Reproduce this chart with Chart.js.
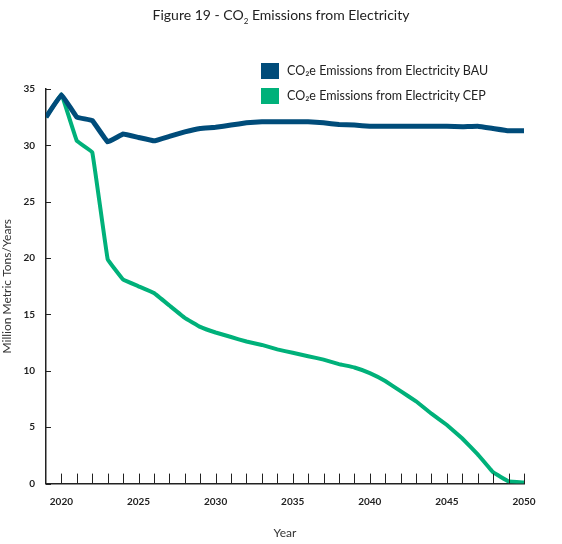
<!DOCTYPE html>
<html lang="en">
<head>
<meta charset="UTF-8">
<title>Figure 19 - CO2 Emissions from Electricity</title>
<script src="https://cdn.jsdelivr.net/npm/chart.js"></script>
<style>
  body { margin: 0; background: #fff; font-family: Lato, "Open Sans", sans-serif; }
  .wrap { position: relative; width: 562px; height: 544px; }
  .title { position: absolute; top: 6px; left: 0; width: 562px; text-align: center; font-size: 14px; color: #222; }
  .legend { position: absolute; left: 261px; top: 58px; font-size: 12.5px; color: #222; }
  .legend div { display: flex; align-items: center; height: 25px; }
  .legend span.box { width: 18px; height: 16px; margin-right: 8px; }
  canvas { position: absolute; top: 0; left: 0; }
</style>
</head>
<body>
<div class="wrap">
  <canvas id="co2Chart" width="562" height="544"></canvas>
  <div class="title">Figure 19 - CO<sub style="font-size:8px">2</sub> Emissions from Electricity</div>
  <div class="legend">
    <div><span class="box" style="background:#004c7a"></span>CO₂e Emissions from Electricity BAU</div>
    <div><span class="box" style="background:#00b17a"></span>CO₂e Emissions from Electricity CEP</div>
  </div>
</div>
<script>
// data
const years = [2019, 2020, 2021, 2022, 2023, 2024, 2025, 2026, 2027, 2028, 2029, 2030,
  2031, 2032, 2033, 2034, 2035, 2036, 2037, 2038, 2039, 2040, 2041, 2042, 2043, 2044,
  2045, 2046, 2047, 2048, 2049, 2050];
const bau = [32.5, 34.5, 32.5, 32.2, 30.3, 31.0, 30.7, 30.4, 30.8, 31.2, 31.5, 31.6,
  31.8, 32.0, 32.1, 32.1, 32.1, 32.1, 32.0, 31.85, 31.8, 31.7, 31.7, 31.7, 31.7, 31.7,
  31.7, 31.65, 31.7, 31.5, 31.3, 31.3];
const cep = [32.5, 34.5, 30.4, 29.4, 19.9, 18.1, 17.5, 16.9, 15.8, 14.7, 13.9, 13.4,
  13.0, 12.6, 12.3, 11.9, 11.6, 11.3, 11.0, 10.6, 10.3, 9.8, 9.1, 8.2, 7.3, 6.2,
  5.2, 4.0, 2.6, 1.0, 0.2, 0.1];
const yTicks = [0, 5, 10, 15, 20, 25, 30, 35];
const xLabels = [2020, 2025, 2030, 2035, 2040, 2045, 2050];

// tick marks drawn inside the plot area
const innerTicks = {
  id: 'innerTicks',
  afterDraw(chart) {
    const ctx = chart.ctx, x = chart.scales.x, y = chart.scales.y;
    ctx.save();
    ctx.strokeStyle = '#222';
    ctx.lineWidth = 1;
    years.forEach(yr => {
      if (yr === years[0]) return;
      const px = Math.round(x.getPixelForValue(yr)) + 0.5;
      ctx.beginPath(); ctx.moveTo(px, y.bottom); ctx.lineTo(px, y.bottom - 10); ctx.stroke();
    });
    yTicks.forEach(v => {
      const py = Math.round(y.getPixelForValue(v)) + 0.5;
      ctx.beginPath(); ctx.moveTo(x.left, py); ctx.lineTo(x.left + 5, py); ctx.stroke();
    });
    ctx.restore();
  }
};

new Chart(document.getElementById('co2Chart'), {
  type: 'line',
  data: {
    datasets: [
      { label: 'BAU', data: years.map((yr, i) => ({ x: yr, y: bau[i] })),
        borderColor: '#004c7a', borderWidth: 5, pointRadius: 0, tension: 0.05 },
      { label: 'CEP', data: years.map((yr, i) => ({ x: yr, y: cep[i] })),
        borderColor: '#00b17a', borderWidth: 4, pointRadius: 0, tension: 0.05 }
    ]
  },
  options: {
    responsive: false,
    animation: false,
    layout: { padding: { top: 89, right: 38, left: 0, bottom: 4 } },
    plugins: { legend: { display: false }, tooltip: { enabled: false } },
    scales: {
      x: {
        type: 'linear', min: 2019, max: 2050,
        afterBuildTicks: s => { s.ticks = xLabels.map(v => ({ value: v })); },
        grid: { display: false },
        border: { color: '#222', width: 1.5 },
        ticks: { color: '#222', font: { family: 'Lato', size: 10, weight: 'bold' }, padding: 4,
                 callback: v => String(v) },
        title: { display: true, text: 'Year', color: '#333', font: { family: 'Lato', size: 12 }, padding: { top: 14, bottom: 0 } }
      },
      y: {
        min: 0, max: 35,
        afterBuildTicks: s => { s.ticks = yTicks.map(v => ({ value: v })); },
        grid: { display: false },
        border: { color: '#222', width: 1.5 },
        ticks: { color: '#222', font: { family: 'Lato', size: 10, weight: 'bold' }, padding: 3 },
        title: { display: true, text: 'Million Metric Tons/Years', color: '#333', font: { family: 'Lato', size: 12 }, padding: { top: 0, bottom: 6 } }
      }
    }
  },
  plugins: [innerTicks]
});
</script>
</body>
</html>
